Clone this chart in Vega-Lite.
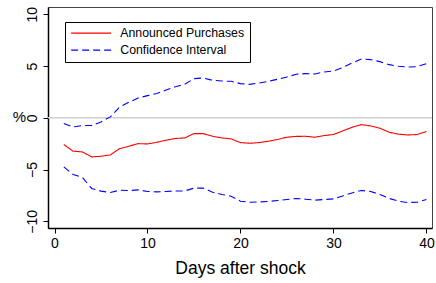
{
  "$schema": "https://vega.github.io/schema/vega-lite/v6.json",
  "width": 384,
  "height": 221,
  "autosize": "none",
  "padding": {"left": 48, "top": 7, "right": 4, "bottom": 55},
  "background": "white",
  "config": {
    "view": {"stroke": "#444444", "strokeWidth": 1},
    "font": "Liberation Sans",
    "axis": {
      "grid": false,
      "domainColor": "black",
      "domainWidth": 1.5,
      "tickColor": "black",
      "tickWidth": 1,
      "tickSize": 5,
      "labelColor": "black",
      "labelFont": "Liberation Sans",
      "labelFontSize": 14,
      "titleColor": "black",
      "titleFont": "Liberation Sans",
      "titleFontWeight": "normal"
    }
  },
  "datasets": {
    "lines": [
      {"day":1,"value":-2.59,"band":"est","series":"Announced Purchases"},
      {"day":2,"value":-3.23,"band":"est","series":"Announced Purchases"},
      {"day":3,"value":-3.30,"band":"est","series":"Announced Purchases"},
      {"day":4,"value":-3.78,"band":"est","series":"Announced Purchases"},
      {"day":5,"value":-3.72,"band":"est","series":"Announced Purchases"},
      {"day":6,"value":-3.59,"band":"est","series":"Announced Purchases"},
      {"day":7,"value":-2.98,"band":"est","series":"Announced Purchases"},
      {"day":8,"value":-2.75,"band":"est","series":"Announced Purchases"},
      {"day":9,"value":-2.50,"band":"est","series":"Announced Purchases"},
      {"day":10,"value":-2.53,"band":"est","series":"Announced Purchases"},
      {"day":11,"value":-2.37,"band":"est","series":"Announced Purchases"},
      {"day":12,"value":-2.17,"band":"est","series":"Announced Purchases"},
      {"day":13,"value":-2.00,"band":"est","series":"Announced Purchases"},
      {"day":14,"value":-1.95,"band":"est","series":"Announced Purchases"},
      {"day":15,"value":-1.53,"band":"est","series":"Announced Purchases"},
      {"day":16,"value":-1.53,"band":"est","series":"Announced Purchases"},
      {"day":17,"value":-1.79,"band":"est","series":"Announced Purchases"},
      {"day":18,"value":-1.95,"band":"est","series":"Announced Purchases"},
      {"day":19,"value":-2.04,"band":"est","series":"Announced Purchases"},
      {"day":20,"value":-2.40,"band":"est","series":"Announced Purchases"},
      {"day":21,"value":-2.46,"band":"est","series":"Announced Purchases"},
      {"day":22,"value":-2.40,"band":"est","series":"Announced Purchases"},
      {"day":23,"value":-2.27,"band":"est","series":"Announced Purchases"},
      {"day":24,"value":-2.10,"band":"est","series":"Announced Purchases"},
      {"day":25,"value":-1.88,"band":"est","series":"Announced Purchases"},
      {"day":26,"value":-1.80,"band":"est","series":"Announced Purchases"},
      {"day":27,"value":-1.79,"band":"est","series":"Announced Purchases"},
      {"day":28,"value":-1.88,"band":"est","series":"Announced Purchases"},
      {"day":29,"value":-1.72,"band":"est","series":"Announced Purchases"},
      {"day":30,"value":-1.62,"band":"est","series":"Announced Purchases"},
      {"day":31,"value":-1.27,"band":"est","series":"Announced Purchases"},
      {"day":32,"value":-0.92,"band":"est","series":"Announced Purchases"},
      {"day":33,"value":-0.66,"band":"est","series":"Announced Purchases"},
      {"day":34,"value":-0.79,"band":"est","series":"Announced Purchases"},
      {"day":35,"value":-1.01,"band":"est","series":"Announced Purchases"},
      {"day":36,"value":-1.40,"band":"est","series":"Announced Purchases"},
      {"day":37,"value":-1.59,"band":"est","series":"Announced Purchases"},
      {"day":38,"value":-1.66,"band":"est","series":"Announced Purchases"},
      {"day":39,"value":-1.62,"band":"est","series":"Announced Purchases"},
      {"day":40,"value":-1.33,"band":"est","series":"Announced Purchases"},
      {"day":1,"value":-0.56,"band":"upper","series":"Confidence Interval"},
      {"day":2,"value":-0.89,"band":"upper","series":"Confidence Interval"},
      {"day":3,"value":-0.75,"band":"upper","series":"Confidence Interval"},
      {"day":4,"value":-0.75,"band":"upper","series":"Confidence Interval"},
      {"day":5,"value":-0.40,"band":"upper","series":"Confidence Interval"},
      {"day":6,"value":0.08,"band":"upper","series":"Confidence Interval"},
      {"day":7,"value":1.04,"band":"upper","series":"Confidence Interval"},
      {"day":8,"value":1.50,"band":"upper","series":"Confidence Interval"},
      {"day":9,"value":1.91,"band":"upper","series":"Confidence Interval"},
      {"day":10,"value":2.14,"band":"upper","series":"Confidence Interval"},
      {"day":11,"value":2.34,"band":"upper","series":"Confidence Interval"},
      {"day":12,"value":2.68,"band":"upper","series":"Confidence Interval"},
      {"day":13,"value":3.00,"band":"upper","series":"Confidence Interval"},
      {"day":14,"value":3.23,"band":"upper","series":"Confidence Interval"},
      {"day":15,"value":3.78,"band":"upper","series":"Confidence Interval"},
      {"day":16,"value":3.84,"band":"upper","series":"Confidence Interval"},
      {"day":17,"value":3.62,"band":"upper","series":"Confidence Interval"},
      {"day":18,"value":3.55,"band":"upper","series":"Confidence Interval"},
      {"day":19,"value":3.52,"band":"upper","series":"Confidence Interval"},
      {"day":20,"value":3.30,"band":"upper","series":"Confidence Interval"},
      {"day":21,"value":3.23,"band":"upper","series":"Confidence Interval"},
      {"day":22,"value":3.36,"band":"upper","series":"Confidence Interval"},
      {"day":23,"value":3.52,"band":"upper","series":"Confidence Interval"},
      {"day":24,"value":3.72,"band":"upper","series":"Confidence Interval"},
      {"day":25,"value":3.94,"band":"upper","series":"Confidence Interval"},
      {"day":26,"value":4.20,"band":"upper","series":"Confidence Interval"},
      {"day":27,"value":4.26,"band":"upper","series":"Confidence Interval"},
      {"day":28,"value":4.23,"band":"upper","series":"Confidence Interval"},
      {"day":29,"value":4.42,"band":"upper","series":"Confidence Interval"},
      {"day":30,"value":4.52,"band":"upper","series":"Confidence Interval"},
      {"day":31,"value":4.85,"band":"upper","series":"Confidence Interval"},
      {"day":32,"value":5.29,"band":"upper","series":"Confidence Interval"},
      {"day":33,"value":5.68,"band":"upper","series":"Confidence Interval"},
      {"day":34,"value":5.62,"band":"upper","series":"Confidence Interval"},
      {"day":35,"value":5.42,"band":"upper","series":"Confidence Interval"},
      {"day":36,"value":5.13,"band":"upper","series":"Confidence Interval"},
      {"day":37,"value":4.97,"band":"upper","series":"Confidence Interval"},
      {"day":38,"value":4.90,"band":"upper","series":"Confidence Interval"},
      {"day":39,"value":4.94,"band":"upper","series":"Confidence Interval"},
      {"day":40,"value":5.23,"band":"upper","series":"Confidence Interval"},
      {"day":1,"value":-4.75,"band":"lower","series":"Confidence Interval"},
      {"day":2,"value":-5.48,"band":"lower","series":"Confidence Interval"},
      {"day":3,"value":-5.77,"band":"lower","series":"Confidence Interval"},
      {"day":4,"value":-6.83,"band":"lower","series":"Confidence Interval"},
      {"day":5,"value":-7.09,"band":"lower","series":"Confidence Interval"},
      {"day":6,"value":-7.22,"band":"lower","series":"Confidence Interval"},
      {"day":7,"value":-7.00,"band":"lower","series":"Confidence Interval"},
      {"day":8,"value":-7.03,"band":"lower","series":"Confidence Interval"},
      {"day":9,"value":-6.97,"band":"lower","series":"Confidence Interval"},
      {"day":10,"value":-7.12,"band":"lower","series":"Confidence Interval"},
      {"day":11,"value":-7.16,"band":"lower","series":"Confidence Interval"},
      {"day":12,"value":-7.12,"band":"lower","series":"Confidence Interval"},
      {"day":13,"value":-7.07,"band":"lower","series":"Confidence Interval"},
      {"day":14,"value":-7.07,"band":"lower","series":"Confidence Interval"},
      {"day":15,"value":-6.80,"band":"lower","series":"Confidence Interval"},
      {"day":16,"value":-6.80,"band":"lower","series":"Confidence Interval"},
      {"day":17,"value":-7.19,"band":"lower","series":"Confidence Interval"},
      {"day":18,"value":-7.41,"band":"lower","series":"Confidence Interval"},
      {"day":19,"value":-7.58,"band":"lower","series":"Confidence Interval"},
      {"day":20,"value":-8.06,"band":"lower","series":"Confidence Interval"},
      {"day":21,"value":-8.16,"band":"lower","series":"Confidence Interval"},
      {"day":22,"value":-8.13,"band":"lower","series":"Confidence Interval"},
      {"day":23,"value":-8.09,"band":"lower","series":"Confidence Interval"},
      {"day":24,"value":-7.99,"band":"lower","series":"Confidence Interval"},
      {"day":25,"value":-7.90,"band":"lower","series":"Confidence Interval"},
      {"day":26,"value":-7.80,"band":"lower","series":"Confidence Interval"},
      {"day":27,"value":-7.87,"band":"lower","series":"Confidence Interval"},
      {"day":28,"value":-7.96,"band":"lower","series":"Confidence Interval"},
      {"day":29,"value":-7.90,"band":"lower","series":"Confidence Interval"},
      {"day":30,"value":-7.84,"band":"lower","series":"Confidence Interval"},
      {"day":31,"value":-7.55,"band":"lower","series":"Confidence Interval"},
      {"day":32,"value":-7.26,"band":"lower","series":"Confidence Interval"},
      {"day":33,"value":-7.03,"band":"lower","series":"Confidence Interval"},
      {"day":34,"value":-7.12,"band":"lower","series":"Confidence Interval"},
      {"day":35,"value":-7.41,"band":"lower","series":"Confidence Interval"},
      {"day":36,"value":-7.80,"band":"lower","series":"Confidence Interval"},
      {"day":37,"value":-8.06,"band":"lower","series":"Confidence Interval"},
      {"day":38,"value":-8.19,"band":"lower","series":"Confidence Interval"},
      {"day":39,"value":-8.16,"band":"lower","series":"Confidence Interval"},
      {"day":40,"value":-7.90,"band":"lower","series":"Confidence Interval"}
    ],
    "zero": [{"value": 0}]
  },
  "layer": [
    {
      "data": {"name": "zero"},
      "mark": {"type": "rule", "color": "#d0d0d0", "strokeWidth": 1.5},
      "encoding": {
        "y": {"field": "value", "type": "quantitative"}
      }
    },
    {
      "data": {"name": "lines"},
      "mark": {"type": "line", "strokeWidth": 1.1},
      "encoding": {
        "x": {
          "field": "day",
          "type": "quantitative",
          "scale": {"domain": [-0.7, 40.6], "nice": false, "zero": false},
          "axis": {
            "values": [0, 10, 20, 30, 40],
            "labelPadding": 3,
            "title": "Days after shock",
            "titleFontSize": 17.5,
            "titleY": 40,
            "titleBaseline": "middle"
          }
        },
        "y": {
          "field": "value",
          "type": "quantitative",
          "scale": {"domain": [-10.65, 10.7], "nice": false, "zero": false},
          "axis": {
            "values": [-10, -5, 0, 5, 10],
            "labelAngle": 270,
            "labelAlign": "center",
            "labelBaseline": "bottom",
            "labelPadding": 4,
            "title": "%",
            "titleAngle": 0,
            "titleFontSize": 15,
            "titleX": -29,
            "titleY": 109,
            "titleAlign": "center",
            "titleBaseline": "middle"
          }
        },
        "detail": {"field": "band", "type": "nominal"},
        "color": {
          "field": "series",
          "type": "nominal",
          "scale": {"domain": ["Announced Purchases", "Confidence Interval"], "range": ["#ff0000", "#0000ff"]},
          "legend": {
            "title": null,
            "orient": "none",
            "legendX": 17,
            "legendY": 15,
            "symbolType": "M-1,0H7",
            "symbolSize": 100,
            "symbolStrokeWidth": 1.1,
            "labelFont": "Liberation Sans",
            "labelFontSize": 12.3,
            "labelColor": "black",
            "labelOffset": 38,
            "strokeColor": "black",
            "fillColor": "white",
            "padding": 5,
            "rowPadding": 4
          }
        },
        "strokeDash": {
          "field": "series",
          "type": "nominal",
          "scale": {"domain": ["Announced Purchases", "Confidence Interval"], "range": [[1, 0], [7, 4]]},
          "legend": {"title": null}
        }
      }
    }
  ]
}
